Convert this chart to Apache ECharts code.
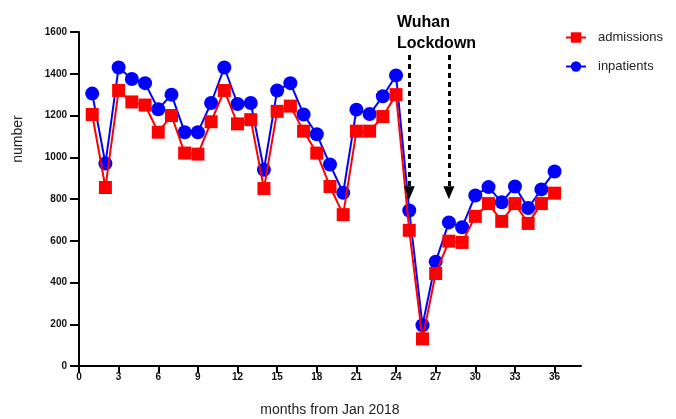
<!DOCTYPE html>
<html>
<head>
<meta charset="utf-8">
<script src="https://cdn.jsdelivr.net/npm/echarts@6/dist/echarts.min.js"></script>
<style>html,body{margin:0;padding:0;background:#fff}#c{width:676px;height:419px}</style>
</head>
<body>
<div id="c"></div>
<script>
var months = [1,2,3,4,5,6,7,8,9,10,11,12,13,14,15,16,17,18,19,20,21,22,23,24,25,26,27,28,29,30,31,32,33,34,35,36];
var admissions = [1205,855,1320,1265,1250,1120,1200,1020,1015,1170,1320,1160,1180,850,1220,1245,1125,1020,860,725,1125,1125,1195,1300,650,130,443,598,592,717,778,693,778,683,778,828];
var inpatients = [1305,970,1430,1375,1355,1230,1300,1120,1120,1260,1430,1255,1260,940,1320,1355,1205,1110,965,830,1228,1207,1292,1392,745,195,500,688,665,817,857,784,860,757,846,932];
var xTicks = [0,3,6,9,12,15,18,21,24,27,30,33,36];
var yTicks = [0,200,400,600,800,1000,1200,1400,1600];
var lockdownMonths = [25, 28];
var arrowTop = 1490, arrowTip = 830;

var chart = echarts.init(document.getElementById('c'), null, {renderer:'canvas'});
var labelFont = {fontFamily:'Liberation Sans, Arial, sans-serif', fontWeight:'bold', fontSize:10, color:'#111'};
var pair = function(vals){ return months.map(function(m,i){return [m, vals[i]];}); };

var option = {
  animation:false,
  backgroundColor:'#fff',
  grid:{left:79, right:95, top:32, bottom:53, containLabel:false, outerBoundsMode:'none'},
  legend:{
    left:560, top:26, orient:'vertical', itemGap:16, itemWidth:20, itemHeight:13,
    textStyle:{fontFamily:'Liberation Sans, Arial, sans-serif', fontSize:13, color:'#222', padding:[0,0,0,7]},
    data:['admissions','inpatients']
  },
  xAxis:{
    type:'value', min:0, max:38,
    name:'months from Jan 2018', nameLocation:'middle', nameGap:37,
    nameTextStyle:{fontFamily:'Liberation Sans, Arial, sans-serif', fontSize:14, color:'#222'},
    axisLine:{show:true, onZero:false, lineStyle:{color:'#000', width:2}},
    axisTick:{show:true, inside:false, length:7, lineStyle:{color:'#000', width:2}, customValues:xTicks},
    axisLabel:Object.assign({margin:6, customValues:xTicks}, labelFont),
    splitLine:{show:false}
  },
  yAxis:{
    type:'value', min:0, max:1600, interval:200,
    axisLine:{show:true, onZero:false, lineStyle:{color:'#000', width:2}},
    axisTick:{show:true, inside:false, length:9, lineStyle:{color:'#000', width:2}},
    axisLabel:Object.assign({margin:12, formatter:function(v){return String(v);}}, labelFont),
    splitLine:{show:false}
  },
  graphic:[
    {type:'text', x:18, y:139, rotation:Math.PI/2, style:{text:'number', fontFamily:'Liberation Sans, Arial, sans-serif', fontSize:14, fill:'#222', textAlign:'center', textVerticalAlign:'middle'}},
    {type:'text', x:397, y:12, style:{text:'Wuhan\nLockdown', fontFamily:'Liberation Sans, Arial, sans-serif', fontSize:16, fontWeight:'bold', fill:'#000', lineHeight:21}}
  ],
  series:[
    {
      name:'inpatients', type:'line', data:pair(inpatients),
      symbol:'circle', symbolSize:14, z:2,
      lineStyle:{color:'#0000ff', width:2}, itemStyle:{color:'#0000ff'}
    },
    {
      name:'admissions', type:'line', data:pair(admissions),
      symbol:'rect', symbolSize:13, z:3,
      lineStyle:{color:'#ff0000', width:2}, itemStyle:{color:'#ff0000'},
      markLine:{
        silent:true, symbol:['none','triangle'], symbolSize:[11,13],
        lineStyle:{color:'#000', type:[5,4], width:3},
        itemStyle:{color:'#000'},
        label:{show:false},
        data:lockdownMonths.map(function(m){return [{coord:[m,arrowTop]},{coord:[m,arrowTip]}];})
      }
    }
  ]
};
chart.setOption(option);
</script>
</body>
</html>
